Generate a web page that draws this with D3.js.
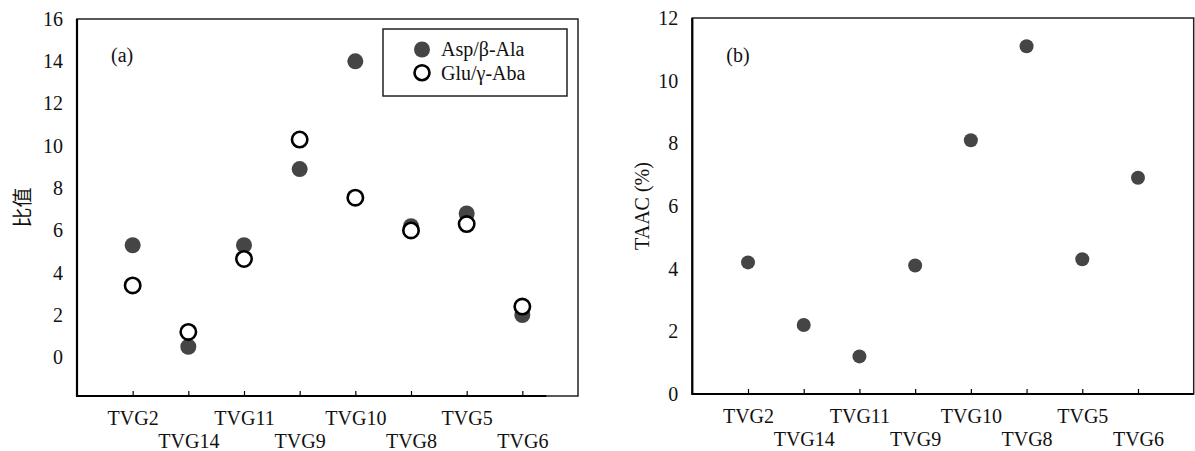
<!DOCTYPE html>
<html>
<head>
<meta charset="utf-8">
<script src="https://cdn.jsdelivr.net/npm/d3@7"></script>
<style>
  body { margin: 0; background: #fff; }
  text { font-family: "Liberation Serif", "Noto Sans CJK SC", serif; fill: #111; }
</style>
</head>
<body>
<svg id="chart" width="1195" height="451"></svg>
<script>
// 样品名（横轴）
const samples = ["TVG2", "TVG14", "TVG11", "TVG9", "TVG10", "TVG8", "TVG5", "TVG6"];
// (a) 比值
const aspAla = [5.3, 0.5, 5.3, 8.9, 14.0, 6.2, 6.8, 2.0];
const gluAba = [3.4, 1.2, 4.65, 10.3, 7.55, 6.0, 6.3, 2.4];
// (b) TAAC (%)
const taac = [4.2, 2.2, 1.2, 4.1, 8.1, 11.1, 4.3, 6.9];
// 纵轴刻度
const ticksA = [0, 2, 4, 6, 8, 10, 12, 14, 16];
const ticksB = [0, 2, 4, 6, 8, 10, 12];

const svg = d3.select("#chart");
const dotColor = "#454545";

// 面板を描く関数
function drawPanel(opt) {
  const x = d3.scaleLinear().domain([0, samples.length + 1]).range([opt.left, opt.right]);
  const y = d3.scaleLinear().domain(opt.yDomain).range([opt.bottom, opt.top]);
  const g = svg.append("g");

  // 外枠
  g.append("rect")
    .attr("x", opt.left).attr("y", opt.top)
    .attr("width", opt.right - opt.left).attr("height", opt.bottom - opt.top)
    .attr("fill", "none").attr("stroke", "#222").attr("stroke-width", 1.5);

  // 纵轴
  const yAxis = g.append("g")
    .attr("transform", `translate(${opt.left},0)`)
    .call(d3.axisLeft(y).tickValues(opt.ticks).tickSize(0).tickPadding(14));
  yAxis.select(".domain").remove();
  yAxis.selectAll("text").style("font-size", "20px");
  g.append("line")
    .attr("x1", opt.left).attr("x2", opt.left)
    .attr("y1", y(opt.yDomain[0]) + 1).attr("y2", opt.top)
    .attr("stroke", "#000").attr("stroke-width", 2.2);

  // 横轴
  const xAxis = g.append("g")
    .attr("transform", `translate(0,${opt.bottom})`)
    .call(d3.axisBottom(x)
      .tickValues(d3.range(1, samples.length + 1))
      .tickSizeInner(-5).tickSizeOuter(0)
      .tickPadding(13)
      .tickFormat(d => samples[d - 1]));
  xAxis.select(".domain").remove();
  xAxis.selectAll(".tick line").attr("stroke", "#000").attr("stroke-width", 1.2);
  xAxis.selectAll("text")
    .style("font-size", "20px")
    .attr("y", (d, i) => i % 2 === 0 ? 15 : 37.5);
  g.append("line")
    .attr("x1", opt.left).attr("x2", x(opt.axisEnd))
    .attr("y1", opt.bottom).attr("y2", opt.bottom)
    .attr("stroke", "#000").attr("stroke-width", 2.2);

  // 纵轴标题
  g.append("text")
    .attr("transform", `translate(${opt.titleX},${(opt.top + opt.bottom) / 2}) rotate(-90)`)
    .attr("text-anchor", "middle").attr("dy", "0.35em")
    .style("font-size", "20px")
    .text(opt.title);

  // パネル記号
  g.append("text")
    .attr("x", opt.left + 34).attr("y", 62)
    .style("font-size", "20px")
    .text(opt.label);

  return { g, x, y };
}

// ---- (a) ----
const pa = drawPanel({
  left: 77, right: 578, top: 19, bottom: 396,
  yDomain: [-1.83, 16], ticks: ticksA, axisEnd: 8.43,
  title: "比值", titleX: 23, label: "(a)"
});

pa.g.append("g").selectAll("circle")
  .data(aspAla)
  .join("circle")
  .attr("cx", (d, i) => pa.x(i + 1))
  .attr("cy", d => pa.y(d))
  .attr("r", 8)
  .attr("fill", dotColor);

pa.g.append("g").selectAll("circle")
  .data(gluAba)
  .join("circle")
  .attr("cx", (d, i) => pa.x(i + 1))
  .attr("cy", d => pa.y(d))
  .attr("r", 7.7)
  .attr("fill", "#fff")
  .attr("stroke", "#000")
  .attr("stroke-width", 2.6);

// 凡例
const legend = pa.g.append("g");
legend.append("rect")
  .attr("x", 383).attr("y", 29).attr("width", 184).attr("height", 67)
  .attr("fill", "#fff").attr("stroke", "#222").attr("stroke-width", 1.5);
legend.append("circle")
  .attr("cx", 422).attr("cy", 49.5).attr("r", 8).attr("fill", dotColor);
legend.append("circle")
  .attr("cx", 422).attr("cy", 72.7).attr("r", 7.5)
  .attr("fill", "#fff").attr("stroke", "#000").attr("stroke-width", 2.6);
legend.append("text").attr("x", 441).attr("y", 56).style("font-size", "20px").text("Asp/β-Ala");
legend.append("text").attr("x", 441).attr("y", 79.5).style("font-size", "20px").text("Glu/γ-Aba");

// ---- (b) ----
const pb = drawPanel({
  left: 692.3, right: 1193.7, top: 18, bottom: 394,
  yDomain: [0, 12], ticks: ticksB, axisEnd: 9,
  title: "TAAC (%)", titleX: 642, label: "(b)"
});

pb.g.append("g").selectAll("circle")
  .data(taac)
  .join("circle")
  .attr("cx", (d, i) => pb.x(i + 1))
  .attr("cy", d => pb.y(d))
  .attr("r", 7)
  .attr("fill", dotColor);
</script>
</body>
</html>
